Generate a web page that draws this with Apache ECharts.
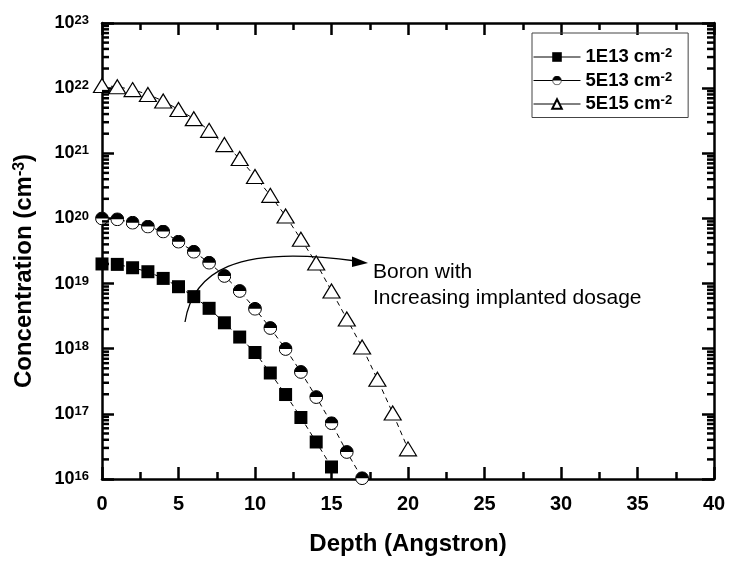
<!DOCTYPE html>
<html>
<head>
<meta charset="utf-8">
<script src="https://cdn.jsdelivr.net/npm/echarts@6/dist/echarts.min.js"></script>
<style>
  html, body { margin: 0; padding: 0; background: #fff; }
  #chart { width: 729px; height: 565px; }
</style>
</head>
<body>
<div id="chart"></div>
<script>
// Boron implant profiles: concentration (cm^-3) vs depth (Angstron)
const depth = [0, 1, 2, 3, 4, 5, 6, 7, 8, 9, 10, 11, 12, 13, 14, 15, 16, 17, 18, 19, 20];
const seriesNames = ['1E13 cm-2', '5E13 cm-2', '5E15 cm-2'];
const dose1E13 = [2.0e19, 1.97e19, 1.75e19, 1.52e19, 1.2e19, 8.95e18, 6.3e18, 4.17e18, 2.5e18, 1.51e18,
                  8.75e17, 4.24e17, 1.98e17, 8.8e16, 3.7e16, 1.53e16];
const dose5E13 = [1.0e20, 9.7e19, 8.6e19, 7.5e19, 6.3e19, 4.4e19, 3.08e19, 2.09e19, 1.31e19, 7.7e18,
                  4.1e18, 2.08e18, 9.9e17, 4.4e17, 1.81e17, 7.2e16, 2.6e16, 1.03e16];
const dose5E15 = [1.1e22, 1.05e22, 9.5e21, 8.0e21, 6.35e21, 4.7e21, 3.4e21, 2.25e21, 1.36e21, 8.3e20,
                  4.4e20, 2.26e20, 1.09e20, 4.8e19, 2.07e19, 7.7e18, 2.86e18, 1.06e18, 3.4e17, 1.03e17, 2.9e16];
const xTicks = [0, 5, 10, 15, 20, 25, 30, 35, 40];
const yExponents = [16, 17, 18, 19, 20, 21, 22, 23];

const FONT = "'Liberation Sans', Arial, Helvetica, sans-serif";
const pairs = (vals) => vals.map((v, i) => [depth[i], v]);

// minor ticks of the log axis at 2..9 x 10^n
const minorLogTicks = [];
for (let e = yExponents[0]; e < yExponents[yExponents.length - 1]; e++) {
  for (let m = 2; m <= 9; m++) minorLogTicks.push([0, m * Math.pow(10, e)]);
}

// half-filled circle marker (upper half black)
const halfCircleSvg =
  "<svg xmlns='http://www.w3.org/2000/svg' width='28' height='28' viewBox='0 0 28 28'>" +
  "<circle cx='14' cy='14' r='12.8' fill='#ffffff' stroke='#000000' stroke-width='2'/>" +
  "<path d='M1.2 14 A12.8 12.8 0 0 1 26.8 14 Z' fill='#000000'/></svg>";
const halfCircle = 'image://data:image/svg+xml;charset=utf-8,' + encodeURIComponent(halfCircleSvg);

const dashLine = { color: '#000', width: 1, type: [5, 4] };
const supRich = {
  b: { fontFamily: FONT, fontWeight: 'bold', fontSize: 18, color: '#000' },
  s: { fontFamily: FONT, fontWeight: 'bold', fontSize: 13, color: '#000', verticalAlign: 'top', lineHeight: 12 }
};

const axisLine = { show: true, onZero: false, lineStyle: { color: '#000', width: 2.5 } };
const tickStyle = { color: '#000', width: 2.5 };

const xBase = {
  type: 'value', min: 0, max: 40, interval: 5,
  axisLine: axisLine,
  axisTick: { show: true, inside: true, length: 12, lineStyle: tickStyle },
  minorTick: { show: true, splitNumber: 2, length: 7, lineStyle: tickStyle },
  splitLine: { show: false }
};
const yBase = {
  type: 'log', logBase: 10, min: 1e16, max: 1e23, splitNumber: 7,
  axisLine: axisLine,
  axisTick: { show: true, inside: true, length: 12, lineStyle: tickStyle },
  splitLine: { show: false }
};

const chart = echarts.init(document.getElementById('chart'));
chart.setOption({
  animation: false,
  backgroundColor: '#fff',
  grid: { left: 102, right: 15, top: 23, bottom: 86 },
  xAxis: [
    Object.assign({}, xBase, {
      position: 'bottom',
      name: 'Depth (Angstron)', nameLocation: 'middle', nameGap: 53,
      nameTextStyle: { fontFamily: FONT, fontWeight: 'bold', fontSize: 24, color: '#000' },
      axisLabel: {
        margin: 15, fontFamily: FONT, fontWeight: 'bold', fontSize: 20, color: '#000',
        customValues: xTicks
      }
    }),
    Object.assign({}, xBase, { position: 'top', axisLabel: { show: false } })
  ],
  yAxis: [
    Object.assign({}, yBase, {
      position: 'left',
      name: '{b|Concentration (cm}{s|-3}{b|)}', nameLocation: 'middle', nameGap: 66, nameRotate: 90,
      nameTextStyle: {
        padding: [0, 40, 0, 0],
        rich: {
          b: { fontFamily: FONT, fontWeight: 'bold', fontSize: 24, color: '#000' },
          s: { fontFamily: FONT, fontWeight: 'bold', fontSize: 16, color: '#000', verticalAlign: 'top', lineHeight: 16 }
        }
      },
      axisLabel: {
        margin: 13,
        formatter: (v) => '{b|10}{s|' + Math.round(Math.log10(v)) + '}',
        rich: supRich
      }
    }),
    Object.assign({}, yBase, { position: 'right', axisLabel: { show: false } })
  ],
  legend: {
    data: seriesNames,
    orient: 'vertical',
    left: 532, top: 33,
    itemWidth: 47, itemHeight: 12, itemGap: 4,
    padding: [14, 16, 4, 1],
    borderColor: '#444', borderWidth: 1,
    lineStyle: { type: 'solid', width: 1, color: '#000' },
    formatter: (name) => '{b|' + name.replace(/-2$/, '') + '}{s|-2}',
    textStyle: {
      rich: {
        b: { fontFamily: FONT, fontWeight: 'bold', fontSize: 18.5, lineHeight: 20, color: '#000' },
        s: { fontFamily: FONT, fontWeight: 'bold', fontSize: 13, color: '#000', verticalAlign: 'top', lineHeight: 12 }
      }
    }
  },
  series: [
    {
      name: seriesNames[0], type: 'line', data: pairs(dose1E13),
      symbol: 'rect', symbolSize: 13,
      itemStyle: { color: '#000', borderColor: '#000', borderWidth: 0 },
      lineStyle: dashLine, clip: false, z: 3
    },
    {
      name: seriesNames[1], type: 'line', data: pairs(dose5E13),
      symbol: halfCircle, symbolSize: 14,
      itemStyle: { color: '#000' },
      lineStyle: dashLine, clip: false, z: 3
    },
    {
      name: seriesNames[2], type: 'line', data: pairs(dose5E15),
      symbol: 'triangle', symbolSize: [17, 14],
      itemStyle: { color: '#fff', borderColor: '#000', borderWidth: 1.2 },
      lineStyle: dashLine, clip: false, z: 3
    },
    {
      // minor ticks on both log axes (left and right edges of the frame)
      type: 'custom', coordinateSystem: 'cartesian2d', xAxisIndex: 0, yAxisIndex: 0,
      data: minorLogTicks, silent: true, clip: false, z: 5,
      renderItem: (params, api) => {
        const y = api.coord([0, api.value(1)])[1];
        const cs = params.coordSys;
        const st = { stroke: '#000', lineWidth: 2.5 };
        return {
          type: 'group',
          children: [
            { type: 'line', shape: { x1: cs.x, y1: y, x2: cs.x + 7, y2: y }, style: st },
            { type: 'line', shape: { x1: cs.x + cs.width - 7, y1: y, x2: cs.x + cs.width, y2: y }, style: st }
          ]
        };
      }
    }
  ],
  graphic: [
    {
      type: 'bezierCurve',
      shape: { x1: 185, y1: 322, cpx1: 193, cpy1: 272, cpx2: 235, cpy2: 244, x2: 356, y2: 261 },
      style: { stroke: '#000', lineWidth: 1.3, fill: null }
    },
    {
      type: 'polygon',
      shape: { points: [[352, 256.5], [368, 263], [352, 267]] },
      style: { fill: '#000' }
    },
    {
      type: 'text', left: 373, top: 259,
      style: {
        text: 'Boron with\nIncreasing implanted dosage',
        font: '21px ' + FONT, lineHeight: 26, fill: '#000'
      }
    }
  ]
});
</script>
</body>
</html>
